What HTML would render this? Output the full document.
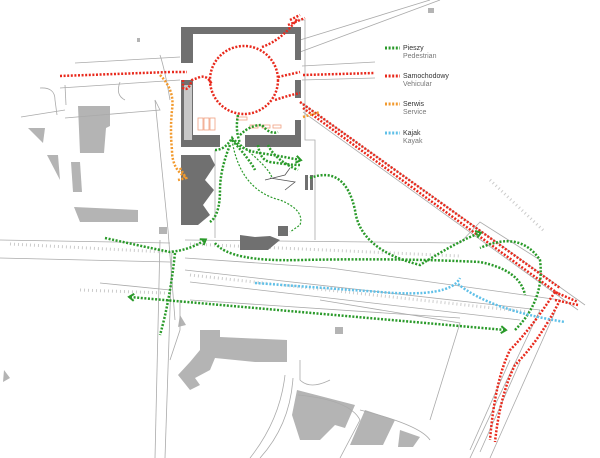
<!DOCTYPE html>
<html><head><meta charset="utf-8"><style>
html,body{margin:0;padding:0;background:#fff;width:600px;height:458px;overflow:hidden}
svg{display:block}
text{font-family:"Liberation Sans",sans-serif}
</style></head><body>
<svg width="600" height="458" viewBox="0 0 600 458" xmlns="http://www.w3.org/2000/svg">
<defs>
<marker id="ag" markerUnits="userSpaceOnUse" markerWidth="9" markerHeight="9" refX="5" refY="4.5" orient="auto-start-reverse"><path d="M1,1 L6,4.5 L1,8" fill="none" stroke="#2a9a2a" stroke-width="2"/></marker>
</defs>
<g fill="#b4b4b4">
<polygon points="78,106 110,106 110,126 106,128 104,153 80,153"/>
<polygon points="28,128 45,128 43,143"/>
<polygon points="47,155 58,155 60,180"/>
<polygon points="71,162 80,162 82,192 73,192"/>
<polygon points="74,207 138,210 138,222 80,222"/>
<rect x="159" y="227" width="8" height="7"/>
<polygon points="200,330 220,330 220,337 287,340 287,362 255,362 215,358 210,370 195,378 200,385 190,390 178,375 190,362 200,350"/>
<polygon points="297,390 355,405 345,428 335,425 320,440 300,440 292,415"/>
<polygon points="365,410 395,420 383,445 350,445"/>
<polygon points="400,430 420,437 413,447 398,447"/>
<rect x="335" y="327" width="8" height="7"/>
<rect x="428" y="8" width="6" height="5"/>
<rect x="137" y="38" width="3" height="4"/>
<polygon points="4,370 10,378 3,382"/>
<polygon points="180,315 186,325 178,327"/>
</g>
<g fill="none" stroke="#aaa" stroke-width="0.8">
<path d="M75,63 L180,57"/><path d="M65,118 L160,110 L155,100"/>
<path d="M60,88 L180,80"/><path d="M21,117 L65,110"/>
<path d="M40,88 Q55,87 55,100 L57,115"/>
<path d="M65,85 L66,105"/><path d="M120,82 Q115,95 125,100"/>
<path d="M155,100 L168,230 L175,320"/>
<path d="M160,55 Q165,70 170,100"/>
<path d="M300,40 L430,0"/><path d="M300,52 L440,0"/>
<path d="M302,66 L375,62"/><path d="M302,80 L375,78"/>
<path d="M300,102 L585,305"/><path d="M303,112 L578,310"/>
<path d="M0,240 L170,243"/><path d="M0,258 L170,262"/>
<path d="M100,283 L170,290"/>
<path d="M185,240 L460,243 L480,222 L540,260"/>
<path d="M185,258 L330,268 L560,300"/>
<path d="M185,270 L540,310"/><path d="M190,282 L520,320"/>
<path d="M190,300 L460,318"/>
<path d="M160,240 L155,458"/><path d="M172,250 L165,458"/>
<path d="M180,300 L180,330 L170,360"/>
<path d="M320,300 L460,323 L430,420"/>
<path d="M300,360 L300,380 Q310,390 330,380"/>
<path d="M285,375 Q280,420 250,458"/><path d="M293,378 Q290,425 260,458"/>
<path d="M298,395 Q350,400 360,420 L340,458"/>
<path d="M360,410 Q420,425 430,440"/>
<path d="M540,310 L470,458"/><path d="M555,312 L490,458"/>
<path d="M510,360 L470,450"/><path d="M520,362 L480,452"/>
<path d="M295,20 L305,20 L305,140 L315,140 L315,240"/>
<path d="M215,150 L215,238"/>
</g>
<g stroke="#ccc" stroke-width="3" fill="none" stroke-dasharray="1 3">
<path d="M10,244 L165,252"/><path d="M190,244 L460,256"/>
<path d="M190,275 L530,312"/><path d="M80,290 L165,293"/>
<path d="M490,180 L545,232"/>
</g>
<g fill="#707070">
<rect x="181" y="27" width="116" height="7"/>
<rect x="181" y="27" width="12" height="36"/>
<rect x="181" y="80" width="12" height="67"/>
<rect x="295" y="27" width="6" height="33"/>
<rect x="295" y="80" width="6" height="18"/>
<rect x="295" y="120" width="6" height="22"/>
<rect x="245" y="135" width="56" height="12"/>
<rect x="193" y="135" width="27" height="12"/>
<polygon points="181,155 210,155 215,165 205,180 214,190 203,205 210,215 198,225 181,225"/>
<polygon points="240,235 255,237 270,236 280,240 268,250 240,250"/>
<rect x="278" y="226" width="10" height="10"/>
<rect x="305" y="175" width="3" height="15"/><rect x="310" y="175" width="3" height="15"/>
</g>
<rect x="184" y="85" width="8" height="55" fill="#c8c8c8"/>
<g fill="none" stroke="#555" stroke-width="0.8">
<path d="M265,180 L285,175 L290,168 M270,178 L295,182 L285,190"/>
</g>
<g fill="none" stroke="#f0a080" stroke-width="0.8">
<rect x="198" y="118" width="5" height="12"/><rect x="204" y="118" width="5" height="12"/><rect x="210" y="118" width="5" height="12"/>
<rect x="237" y="117" width="10" height="3"/>
<rect x="250" y="125" width="8" height="3"/><rect x="262" y="125" width="8" height="3"/><rect x="273" y="125" width="8" height="3"/>
</g>
<g fill="none" stroke="#e8291c" stroke-width="2.5" stroke-dasharray="2 1.6">
<circle cx="244" cy="80" r="34"/>
<path d="M60,76 L170,72"/>
<path d="M172,72 L187,72"/>
<path d="M183,80 L183,88 Q188,92 192,80 L200,77 Q208,75 212,85"/>
<path d="M303,75 L375,73"/><path d="M278,77 L300,72"/>
<path d="M262,47 Q282,40 298,18"/>
<path d="M275,100 Q290,95 300,93"/>
<path d="M303,108 L560,295"/>
<path d="M300,102 L560,288"/>
<path d="M555,292 Q530,330 510,350 Q495,380 490,440"/>
<path d="M560,300 Q540,340 515,365 Q500,395 495,442"/>
<path d="M555,292 L578,302 M555,300 L578,305"/>
<path d="M288,25 L305,18 M290,20 L300,15"/>
</g>
<g fill="none" stroke="#f29a2e" stroke-width="2.5" stroke-dasharray="2 1.6">
<path d="M160,75 Q175,90 172,110 Q170,130 172,150 Q172,170 187,178"/>
<path d="M303,117 L320,112"/>
<path d="M180,168 L186,178 L178,180"/>
</g>
<g fill="none" stroke="#2a9a2a" stroke-width="2.5" stroke-dasharray="2 1.6">
<path d="M105,238 Q150,248 170,252 Q190,250 205,240" marker-end="url(#ag)"/>
<path d="M175,253 Q170,300 160,335"/>
<path d="M130,297 L505,330" marker-start="url(#ag)" marker-end="url(#ag)"/>
<path d="M215,243 Q230,262 300,260 Q400,258 480,262 Q520,270 525,295"/>
<path d="M310,178 Q345,165 355,210 Q360,250 420,265 Q460,240 480,233" marker-end="url(#ag)"/>
<path d="M515,330 Q545,300 540,260 Q520,230 480,248" />
<path d="M238,115 Q235,130 240,143"/>
<path d="M215,150 Q225,150 232,138 Q240,150 260,153 Q280,156 300,160" marker-end="url(#ag)"/>
<path d="M232,140 Q250,160 255,170"/>
<path d="M230,145 Q220,170 220,190 Q220,215 210,222"/>
<path d="M258,145 Q260,160 270,162 Q290,165 300,165"/>
<path d="M268,145 Q275,160 298,170"/>
<path d="M232,140 Q240,190 280,200 Q305,210 300,225 L290,232" stroke-width="1.2"/>
<path d="M235,140 Q270,168 272,178" stroke-width="1.2"/>
<path d="M240,135 Q250,125 262,125 Q270,135 278,132"/>
</g>
<g fill="none" stroke="#5fc0e8" stroke-width="2.5" stroke-dasharray="2 1.6">
<path d="M255,283 L380,292 Q450,298 460,278"/>
<path d="M458,284 Q490,310 565,322"/>
</g>
<g stroke-width="3" stroke-dasharray="2 1.6">
<path d="M385,48 L400,48" stroke="#2a9a2a"/>
<path d="M385,76 L400,76" stroke="#e8291c"/>
<path d="M385,104 L400,104" stroke="#f29a2e"/>
<path d="M385,133 L400,133" stroke="#5fc0e8"/>
</g>
<g font-size="7" fill="#333">
<text x="403" y="50">Pieszy</text><text x="403" y="58" fill="#777">Pedestrian</text>
<text x="403" y="78">Samochodowy</text><text x="403" y="86" fill="#777">Vehicular</text>
<text x="403" y="106">Serwis</text><text x="403" y="114" fill="#777">Service</text>
<text x="403" y="135">Kajak</text><text x="403" y="143" fill="#777">Kayak</text>
</g>
</svg>
</body></html>
